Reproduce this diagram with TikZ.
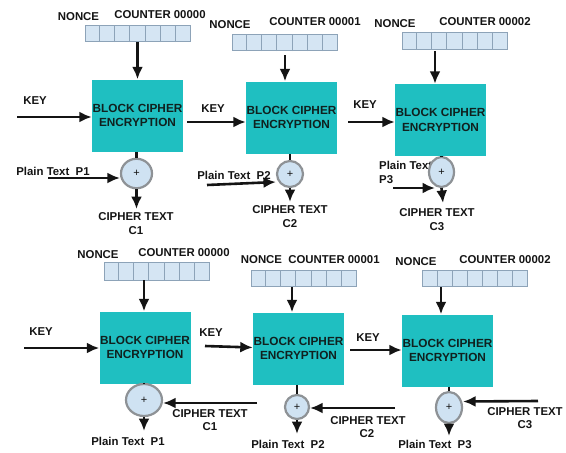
\documentclass[tikz,border=0pt]{standalone}
\usepackage{fontspec}
\setmainfont{Liberation Sans}
\usetikzlibrary{arrows.meta,shapes.geometric,calc}

\definecolor{blockfill}{HTML}{1FBFC1}
\definecolor{blocktext}{HTML}{10211F}
\definecolor{xorfill}{HTML}{CFE2F2}
\definecolor{xorline}{HTML}{8E9296}
\definecolor{ctrfill}{HTML}{D5E5F3}
\definecolor{ctrline}{HTML}{8DA3B8}
\definecolor{txt}{HTML}{141414}

\tikzset{
  blk/.style={fill=blockfill, minimum width=91pt, minimum height=72pt, inner sep=0pt,
    align=center, text=blocktext, font=\bfseries\fontsize{11.8}{14.5}\selectfont},
  xorn/.style={ellipse, draw=xorline, line width=2.2pt, fill=xorfill, inner sep=0pt,
    text=txt, font=\fontsize{11}{11}\selectfont},
  lbl/.style={inner sep=0pt, align=center, text=txt, font=\bfseries\fontsize{11.4}{13.5}\selectfont},
  ctr/.style={draw=ctrline, line width=0.9pt, fill=ctrfill, minimum width=105pt,
    minimum height=16.5pt, inner sep=0pt},
  arr/.style={draw=txt, line width=2.6pt, -{Latex[length=12.5pt,width=11pt]}},
  ln/.style={draw=txt, line width=2.6pt},
}

% seven cells of a counter register
\newcommand{\ctrcells}[1]{%
  \foreach \k in {1,...,6}
    \draw[ctrline, line width=0.9pt]
      ($(#1.south west)!\k/7!(#1.south east)$) -- ($(#1.north west)!\k/7!(#1.north east)$);}

\begin{document}
\begin{tikzpicture}[x=1pt,y=-1pt]
\useasboundingbox (0,0) rectangle (566,453);
\fill[white] (0,0) rectangle (566,453);

%% ===================== encryption (top row) =====================
% --- stage 1
\node[lbl] (tn1) at (78.5,17) {NONCE};
\node[lbl] (tc1) at (160,15) {COUNTER 00000};
\node[ctr] (ctr1) at (137.5,33.5) {}; \ctrcells{ctr1}
\node[blk] (b1) at (137.5,115.5) {BLOCK CIPHER\\ENCRYPTION};
\node[lbl] (tk1) at (35,101) {KEY};
\coordinate (k1) at (17,117);
\node[lbl] (tp1) at (53,171) {Plain Text\ \ P1};
\coordinate (p1) at (48,178);
\node[xorn, minimum width=31pt, minimum height=29.5pt] (x1) at (136.5,173.5) {+};
\coordinate (o1) at (136.5,209);
\node[lbl] (tct1) at (136,217) {CIPHER TEXT};
\node[lbl] (tcc1) at (136,230.5) {C1};
\draw[arr] (ctr1.south) -- (b1.north);
\draw[arr] (k1) -- (k1 -| b1.west);
\draw[ln] (x1.north |- b1.south) -- (x1.north);
\draw[arr] (p1) -- (p1 -| x1.west);
\draw[arr] (x1.south) -- (o1);

% --- stage 2
\node[lbl] (tn2) at (230,24.5) {NONCE};
\node[lbl] (tc2) at (315,22) {COUNTER 00001};
\node[ctr] (ctr2) at (284.5,42.5) {}; \ctrcells{ctr2}
\node[blk] (b2) at (291.5,117.5) {BLOCK CIPHER\\ENCRYPTION};
\node[lbl] (tk2) at (213,109) {KEY};
\coordinate (k2) at (187,122);
\node[lbl] (tp2) at (234,175) {Plain Text\ \ P2};
\coordinate (p2) at (207,185);
\node[xorn, minimum width=26pt, minimum height=26pt] (x2) at (290,174) {+};
\coordinate (o2) at (290,202);
\node[lbl] (tct2) at (290,210) {CIPHER TEXT};
\node[lbl] (tcc2) at (290,223.5) {C2};
\coordinate (a2) at (285,55);
\draw[arr] (a2) -- (a2 |- b2.north);
\draw[arr] (k2) -- (k2 -| b2.west);
\draw[ln] (x2.north |- b2.south) -- (x2.north);
\draw[arr] (p2) -- ($(x2.west)+(0,8)$);
\draw[arr] (x2.south) -- (o2);

% --- stage 3
\node[lbl] (tn3) at (395,24) {NONCE};
\node[lbl] (tc3) at (485,22) {COUNTER 00002};
\node[ctr] (ctr3) at (454.5,41) {}; \ctrcells{ctr3}
\node[blk] (b3) at (440.5,120) {BLOCK CIPHER\\ENCRYPTION};
\node[lbl] (tk3) at (365,105) {KEY};
\coordinate (k3) at (348,122);
\node[lbl, anchor=west, align=left] (tp3) at (379,172.5) {Plain Text\\P3};
\coordinate (p3) at (393,188);
\node[xorn, minimum width=25pt, minimum height=30pt] (x3) at (441.5,172) {+};
\coordinate (o3) at (443,203);
\node[lbl] (tct3) at (437,213) {CIPHER TEXT};
\node[lbl] (tcc3) at (437,226.5) {C3};
\coordinate (a3) at (435,51);
\draw[arr] (a3) -- (a3 |- b3.north);
\draw[arr] (k3) -- (k3 -| b3.west);
\draw[ln] (x3.north |- b3.south) -- (x3.north);
\draw[arr] (p3) -- (435,188);
\draw[arr] (x3.south) -- (o3);

%% ===================== decryption (bottom row) =====================
% --- stage 1
\node[lbl] (bn1) at (98,255) {NONCE};
\node[lbl] (bc1) at (184,252.5) {COUNTER 00000};
\node[ctr, minimum height=18pt] (ctr4) at (156.5,271) {}; \ctrcells{ctr4}
\node[blk] (b4) at (145,347.5) {BLOCK CIPHER\\ENCRYPTION};
\node[lbl] (bk1) at (41,332) {KEY};
\coordinate (k4) at (24,348);
\node[xorn, minimum width=36pt, minimum height=32pt] (x4) at (144,400) {+};
\coordinate (c4) at (257,403);
\node[lbl] (bct1) at (210,413.5) {CIPHER TEXT};
\node[lbl] (bcc1) at (210,427) {C1};
\coordinate (o4) at (144,431);
\node[lbl] (bp1) at (128,441) {Plain Text\ \ P1};
\coordinate (a4) at (144,280);
\draw[arr] (a4) -- (a4 |- b4.north);
\draw[arr] (k4) -- (k4 -| b4.west);
\draw[ln] (x4.north |- b4.south) -- (x4.north);
\draw[arr] (c4) -- (c4 -| x4.east);
\draw[arr] (x4.south) -- (o4);

% --- stage 2
\node[lbl] (bn2) at (261.5,260) {NONCE};
\node[lbl] (bc2) at (334,259.5) {COUNTER 00001};
\node[ctr] (ctr5) at (303.5,278.5) {}; \ctrcells{ctr5}
\node[blk] (b5) at (298.5,348.5) {BLOCK CIPHER\\ENCRYPTION};
\node[lbl] (bk2) at (211,333) {KEY};
\coordinate (k5) at (205,346);
\node[xorn, minimum width=24pt, minimum height=24pt] (x5) at (297,407) {+};
\coordinate (c5) at (395,408);
\node[lbl] (bct2) at (368,420.5) {CIPHER TEXT};
\node[lbl] (bcc2) at (367,434) {C2};
\coordinate (o5) at (297,434);
\node[lbl] (bp2) at (288,444) {Plain Text\ \ P2};
\coordinate (a5) at (292,287);
\draw[arr] (a5) -- (a5 |- b5.north);
\draw[arr] (k5) -- ($(b5.west)+(0,-1)$);
\draw[ln] (x5.north |- b5.south) -- (x5.north);
\draw[arr] (c5) -- (c5 -| x5.east);
\draw[arr] (x5.south) -- (o5);

% --- stage 3
\node[lbl] (bn3) at (416,262) {NONCE};
\node[lbl] (bc3) at (505,260) {COUNTER 00002};
\node[ctr] (ctr6) at (475,278.5) {}; \ctrcells{ctr6}
\node[blk] (b6) at (447.5,350.5) {BLOCK CIPHER\\ENCRYPTION};
\node[lbl] (bk3) at (368,338) {KEY};
\coordinate (k6) at (350,350);
\node[xorn, minimum width=26pt, minimum height=31pt] (x6) at (449,407.5) {+};
\coordinate (c6) at (538,401);
\node[lbl] (bct3) at (525,412) {CIPHER TEXT};
\node[lbl] (bcc3) at (525,424.5) {C3};
\coordinate (o6) at (449,436);
\node[lbl] (bp3) at (435,444) {Plain Text\ \ P3};
\coordinate (a6) at (441,287);
\draw[arr] (a6) -- (a6 |- b6.north);
\draw[arr] (k6) -- (k6 -| b6.west);
\draw[ln] (x6.north |- b6.south) -- (x6.north);
\draw[arr] (c6) -- ($(x6.east)+(0,-6)$);
\draw[arr] (x6.south) -- (o6);
\end{tikzpicture}
\end{document}
